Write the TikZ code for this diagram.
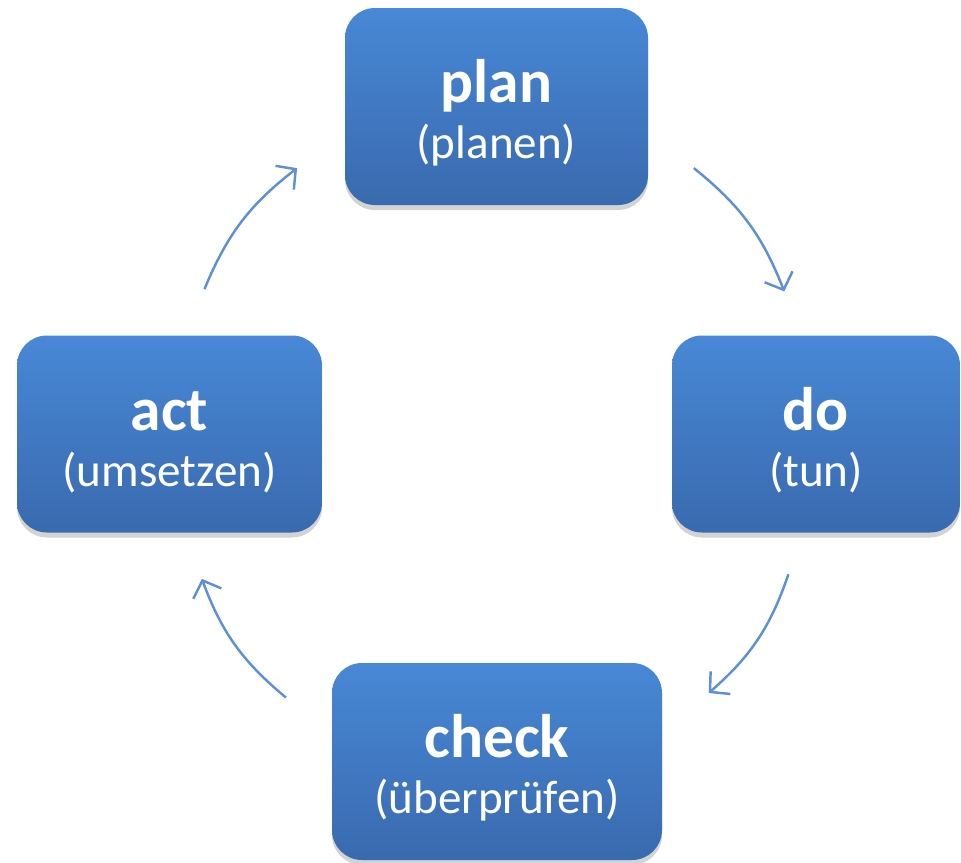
\documentclass[tikz,border=0pt]{standalone}
\usepackage{fontspec}
\setmainfont{Carlito}
\usetikzlibrary{positioning,shadows,arrows.meta,calc}

\definecolor{boxtop}{RGB}{72,136,214}
\definecolor{boxbottom}{RGB}{57,106,174}
\definecolor{arrowblue}{RGB}{95,145,210}

\newcommand{\phase}[2]{\rule{0pt}{15.8pt}{\fontsize{17.5}{17.5}\selectfont\bfseries #1}\\{#2}}

\begin{document}
\begin{tikzpicture}[
    phasebox/.style={rectangle, rounded corners=0.3cm, top color=boxtop, bottom color=boxbottom, minimum height=1.97cm, align=center, text=white, font=\fontsize{13.4}{16.2}\selectfont, drop shadow={shadow xshift=0pt, shadow yshift=-0.05cm, opacity=0.35}},
    pdca/.style={-{Straight Barb[length=0.14cm,width=0.3cm]}, arrowblue, line width=0.7pt, bend left=15}
]
    \useasboundingbox (0,0) rectangle (9.61,8.62);

    \node[phasebox, minimum width=3.03cm] (plan) at (4.965,7.555) {\phase{plan}{(planen)}};
    \node[phasebox, minimum width=2.88cm] (do) at (8.16,4.28) {\phase{do}{(tun)}};
    \node[phasebox, minimum width=3.30cm] (check) at (4.97,1.005) {\phase{check}{(überprüfen)}};
    \node[phasebox, minimum width=3.05cm] (act) at (1.695,4.28) {\phase{act}{(umsetzen)}};

    % arrow ends between the boxes
    \coordinate (ap1) at ($(act.north)!0.2!(plan.west)$);
    \coordinate (ap2) at ($(act.north)!0.73!(plan.west)$);
    \coordinate (pd1) at ($(plan.east)!0.27!(do.north)$);
    \coordinate (pd2) at ($(plan.east)!0.81!(do.north)$);
    \coordinate (dc1) at ($(do.south)!0.18!(check.east)$);
    \coordinate (dc2) at ($(do.south)!0.7!(check.east)$);
    \coordinate (ca1) at ($(check.west)!0.28!(act.south)$);
    \coordinate (ca2) at ($(check.west)!0.8!(act.south)$);

    \draw[pdca] (ap1) to (ap2);
    \draw[pdca] (pd1) to (pd2);
    \draw[pdca] (dc1) to (dc2);
    \draw[pdca] (ca1) to (ca2);
\end{tikzpicture}
\end{document}
